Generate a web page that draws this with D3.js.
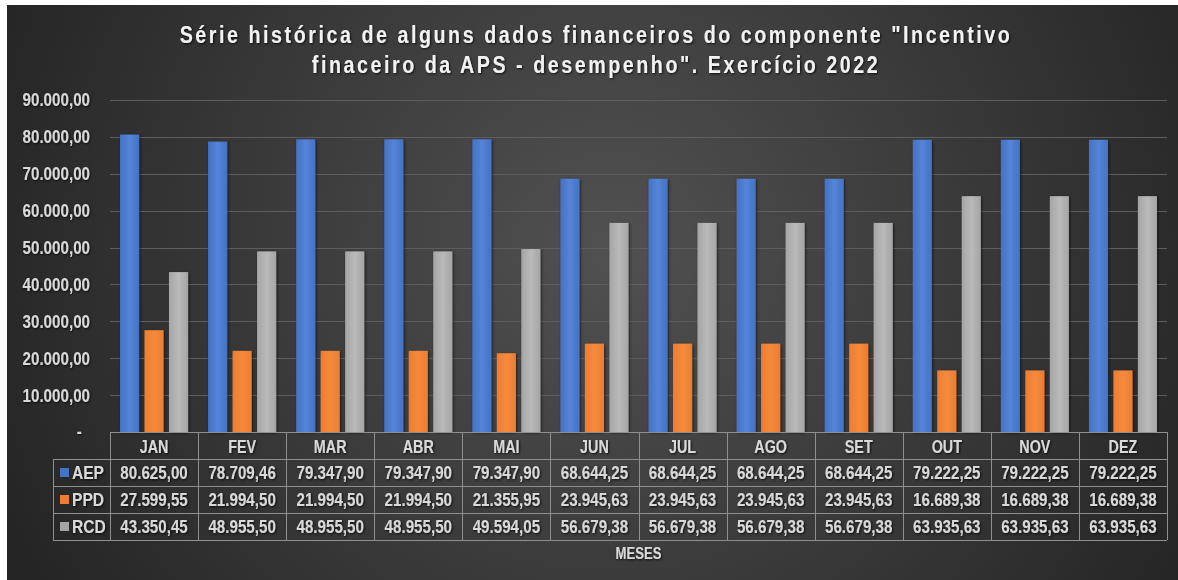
<!DOCTYPE html>
<html><head><meta charset="utf-8">
<script src="https://cdn.jsdelivr.net/npm/d3@7"></script>
<style>
html,body{margin:0;padding:0;background:#fff;}
svg{display:block;}
</style></head>
<body>
<svg id="c" width="1178" height="580"></svg>
<script>
const months = ["JAN","FEV","MAR","ABR","MAI","JUN","JUL","AGO","SET","OUT","NOV","DEZ"];
const seriesNames = ["AEP","PPD","RCD"];
const aep = [80625.00,78709.46,79347.90,79347.90,79347.90,68644.25,68644.25,68644.25,68644.25,79222.25,79222.25,79222.25];
const ppd = [27599.55,21994.50,21994.50,21994.50,21355.95,23945.63,23945.63,23945.63,23945.63,16689.38,16689.38,16689.38];
const rcd = [43350.45,48955.50,48955.50,48955.50,49594.05,56679.38,56679.38,56679.38,56679.38,63935.63,63935.63,63935.63];
const yTicks = [0,10000,20000,30000,40000,50000,60000,70000,80000,90000];
const titleLines = ["Série histórica de alguns dados financeiros do componente \"Incentivo","finaceiro da APS - desempenho\". Exercício 2022"];
const xTitle = "MESES";

(function(){
const values = [aep, ppd, rcd];
const colors = ["#4472C4","#ED7D31","#A5A5A5"];
const colorsLight = ["#5584d8","#f58a3c","#bababa"];
const SX = 0.82;

const svg = d3.select("#c");
const defs = svg.append("defs");
const rg = defs.append("radialGradient").attr("id","bg").attr("gradientUnits","userSpaceOnUse")
  .attr("cx",610).attr("cy",250).attr("r",660);
rg.append("stop").attr("offset","0%").attr("stop-color","#515151");
rg.append("stop").attr("offset","100%").attr("stop-color","#252525");
colors.forEach((c,i)=>{
  const lg = defs.append("linearGradient").attr("id","g"+i).attr("x1","0").attr("x2","1").attr("y1","0").attr("y2","0");
  lg.append("stop").attr("offset","0%").attr("stop-color",c);
  lg.append("stop").attr("offset","50%").attr("stop-color",colorsLight[i]);
  lg.append("stop").attr("offset","100%").attr("stop-color",c);
});
const f = defs.append("filter").attr("id","sh").attr("x","-30%").attr("y","-10%").attr("width","160%").attr("height","120%");
f.append("feDropShadow").attr("dx",1).attr("dy",1).attr("stdDeviation",1.5).attr("flood-color","#000").attr("flood-opacity",0.6);
const ft = defs.append("filter").attr("id","tsh");
ft.append("feDropShadow").attr("dx",1).attr("dy",1).attr("stdDeviation",1).attr("flood-color","#000").attr("flood-opacity",0.8);

svg.append("rect").attr("x",7).attr("y",5).attr("width",1171).attr("height",575).attr("fill","url(#bg)");

const font = "'Liberation Sans','Arial',sans-serif";
const txtCol = "#d9d9d9";
const place = (sel, fx, fy) => sel.attr("transform",(d,i)=>`translate(${fx(d,i)},${fy(d,i)}) scale(${SX},1)`);

// title
place(svg.append("g").attr("filter","url(#tsh)").selectAll("text").data(titleLines).join("text"),
  ()=>596,(d,i)=>43+i*30)
  .attr("text-anchor","middle")
  .attr("font-family",font).attr("font-weight","bold").attr("font-size",24)
  .attr("letter-spacing",3.1).attr("fill","#f2f2f2").text(d=>d);

const pL = 110, pR = 1167, pT = 100, zeroY = 432;
const x = d3.scaleBand().domain(months).range([pL,pR]).padding(0);
const xs = d3.scaleBand().domain(seriesNames).range([10, x.bandwidth()-10]).paddingInner(0.22);
const y = d3.scaleLinear().domain([0,90000]).range([zeroY, pT]);

svg.append("g").selectAll("line").data(yTicks.filter(d=>d>0)).join("line")
  .attr("x1",pL).attr("x2",pR).attr("y1",d=>Math.round(y(d))+0.5).attr("y2",d=>Math.round(y(d))+0.5)
  .attr("stroke","#5e5e5e").attr("stroke-width",1);

const nf = v => d3.format(",.2f")(v).replace(/,/g,"#").replace(/\./g,",").replace(/#/g,".");
const fmt = v => v===0 ? "-" : nf(v);
const yAxis = d3.axisLeft(y).tickValues(yTicks).tickSize(0).tickPadding(0).tickFormat(fmt);
const ya = svg.append("g").attr("transform",`translate(90,0)`).call(yAxis);
ya.select(".domain").remove();
ya.selectAll("text").attr("font-family",font).attr("font-weight","bold").attr("font-size",18.5)
  .attr("fill",txtCol).attr("filter","url(#tsh)")
  .attr("x",d=>d===0?-10:0).attr("dy","0.32em").attr("transform",`scale(${SX},1)`);

const bars = svg.append("g");
months.forEach((m,mi)=>{
  seriesNames.forEach((s,si)=>{
    const v = values[si][mi];
    bars.append("rect").attr("x",x(m)+xs(s)).attr("width",xs.bandwidth())
      .attr("y",y(v)).attr("height",zeroY-y(v))
      .attr("fill","url(#g"+si+")").attr("filter","url(#sh)");
  });
});

const rowH = 27;
const legL = 53;
const tbl = svg.append("g");
const tableBottom = zeroY + rowH*4;
const lineCol = "#8f8f8f";
[0,1,2,3,4].forEach(i=>{
  const yy = zeroY + i*rowH + 0.5;
  tbl.append("line").attr("x1", i===0? pL : legL).attr("x2",pR).attr("y1",yy).attr("y2",yy)
    .attr("stroke", lineCol).attr("stroke-width",1);
});
const vx = months.map(m=>x(m)).concat([pR]);
vx.forEach(xx=>{
  tbl.append("line").attr("x1",Math.round(xx)+0.5).attr("x2",Math.round(xx)+0.5).attr("y1",zeroY).attr("y2",tableBottom)
    .attr("stroke",lineCol);
});
tbl.append("line").attr("x1",legL+0.5).attr("x2",legL+0.5).attr("y1",zeroY+rowH).attr("y2",tableBottom).attr("stroke",lineCol);

const tg = tbl.append("g").attr("filter","url(#tsh)");
place(tg.selectAll("text.h").data(months).join("text").attr("class","h"),
  m=>x(m)+x.bandwidth()/2, ()=>zeroY+rowH/2+1)
  .attr("dy","0.36em")
  .attr("text-anchor","middle").attr("font-family",font).attr("font-weight","bold").attr("font-size",17.5)
  .attr("fill",txtCol).text(d=>d);
seriesNames.forEach((s,si)=>{
  const yy = zeroY + (si+1)*rowH + rowH/2;
  place(tg.selectAll("text.r"+si).data(values[si]).join("text").attr("class","r"+si),
    (d,i)=>x(months[i])+x.bandwidth()/2, ()=>yy)
    .attr("dy","0.36em")
    .attr("text-anchor","middle").attr("font-family",font).attr("font-weight","bold").attr("font-size",18.5)
    .attr("fill",txtCol).text(d=>nf(d));
  tbl.append("rect").attr("x",60).attr("y",yy-4.5).attr("width",9).attr("height",9).attr("fill",colors[si]);
  place(tg.append("text").datum(s), ()=>72, ()=>yy).attr("dy","0.36em").attr("font-family",font)
    .attr("font-weight","bold").attr("font-size",19).attr("fill",txtCol).text(s);
});

place(svg.append("text").datum(xTitle), ()=>(pL+pR)/2, ()=>553).attr("dy","0.35em").attr("text-anchor","middle")
  .attr("font-family",font).attr("font-weight","bold").attr("font-size",16).attr("fill",txtCol)
  .attr("filter","url(#tsh)").text(xTitle);
})();
</script>
</body></html>
